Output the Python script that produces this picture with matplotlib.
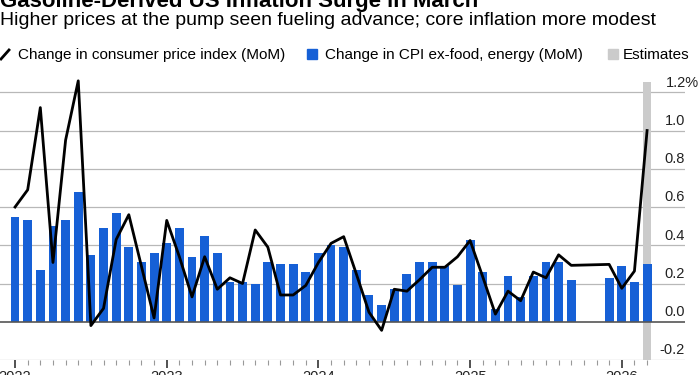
import matplotlib
matplotlib.use("Agg")
import matplotlib.pyplot as plt
import numpy as np
import pandas as pd
from matplotlib.lines import Line2D
from matplotlib.patches import Rectangle

plt.rcParams['font.family'] = ['Liberation Sans', 'DejaVu Sans']

title = "Gasoline-Derived US Inflation Surge in March"
subtitle = "Higher prices at the pump seen fueling advance; core inflation more modest"
legend_labels = ["Change in consumer price index (MoM)",
                 "Change in CPI ex-food, energy (MoM)",
                 "Estimates"]

months = pd.period_range("2022-01", "2026-03", freq="M")
nan = np.nan

# headline CPI, MoM %  (Oct/Nov 2025 not published)
cpi = [0.60, 0.69, 1.12, 0.31, 0.95, 1.26, -0.02, 0.07, 0.43, 0.56, 0.29, 0.02,
       0.53, 0.34, 0.13, 0.34, 0.17, 0.23, 0.20, 0.48, 0.39, 0.14, 0.14, 0.19,
       0.31, 0.41, 0.445, 0.25, 0.05, -0.045, 0.17, 0.16, 0.22, 0.285, 0.285, 0.34,
       0.425, 0.235, 0.04, 0.16, 0.11, 0.26, 0.23, 0.35, 0.295, nan, nan, 0.30,
       0.175, 0.265, 1.00]

# core CPI, MoM %
core = [0.55, 0.53, 0.27, 0.50, 0.53, 0.68, 0.35, 0.49, 0.57, 0.39, 0.31, 0.36,
        0.41, 0.49, 0.34, 0.45, 0.36, 0.21, 0.21, 0.20, 0.31, 0.30, 0.30, 0.26,
        0.36, 0.40, 0.39, 0.27, 0.14, 0.09, 0.17, 0.25, 0.31, 0.31, 0.29, 0.19,
        0.43, 0.26, 0.065, 0.24, 0.13, 0.24, 0.31, 0.31, 0.22, nan, nan, 0.23,
        0.29, 0.21, 0.30]

estimate_month = "2026-03"
band_top = 1.255

y_ticks = [-0.2, 0.0, 0.2, 0.4, 0.6, 0.8, 1.0, 1.2]
y_labels = ["-0.2", "0.0", "0.2", "0.4", "0.6", "0.8", "1.0", "1.2%"]

blue = "#1660d6"
grey_band = "#cbcbcb"
grid_col = "#b8b8b8"

W, H = 700, 375


def fx(px):
    return px / W


def fy(py):
    return 1 - py / H


fig = plt.figure(figsize=(7, 3.75), dpi=100)
ax = fig.add_axes([0, 15 / H, 685 / W, 283 / H])
ax.set_xlim(-1.19, 53.0)
ax.set_ylim(-0.2, 1.28)

x = np.arange(len(months))
cpi = np.array(cpi, dtype=float)
core = np.array(core, dtype=float)

# estimates band
est = list(months.astype(str)).index(estimate_month)
ax.axvspan(est - 0.34, est + 0.34, ymin=0,
           ymax=(band_top - (-0.2)) / (1.28 - (-0.2)),
           color=grey_band, lw=0, zorder=1)

for v in y_ticks:
    if v == 0:
        continue
    ax.axhline(v, color=grid_col, lw=0.9, zorder=0.5)

ax.bar(x, core, width=0.7, color=blue, zorder=2)
ax.axhline(0, color="#555555", lw=1.2, zorder=2.5)

ok = ~np.isnan(cpi)
ax.plot(x[ok], cpi[ok], color="black", lw=2, zorder=3)

for v, lab in zip(y_ticks, y_labels):
    xpos = 1.0
    if lab.endswith("%"):
        xpos = 699 / 685
    ax.text(xpos, v + 0.03, lab, transform=ax.get_yaxis_transform(),
            ha="right", va="baseline", fontsize=10.5, color="#222222")

years = x[months.month == 1]
ax.set_xticks(years)
ax.set_xticklabels([str(p.year) for p in months[months.month == 1]])
ax.set_xticks(x, minor=True)
ax.tick_params(axis="x", which="major", length=6, width=1.2, color="#333333",
               pad=1.5, labelsize=10.5, labelcolor="#222222")
ax.tick_params(axis="x", which="minor", length=3.5, width=0.8, color="#999999")
ax.set_yticks([])
for s in ax.spines.values():
    s.set_visible(False)

# title block (top is cropped in the reference)
fig.text(0, fy(7), title, fontsize=16, fontweight="bold", va="baseline")
fig.text(0, fy(25), subtitle, fontsize=14, va="baseline")

# legend
base = 59
fig.add_artist(Line2D([fx(1), fx(9)], [fy(base), fy(base - 9)], color="black",
                      lw=2, transform=fig.transFigure))
fig.text(fx(18), fy(base), legend_labels[0], fontsize=11, va="baseline")
fig.add_artist(Rectangle((fx(307), fy(base)), 10 / W, 10 / H, color=blue,
                         transform=fig.transFigure))
fig.text(fx(325), fy(base), legend_labels[1], fontsize=11, va="baseline")
fig.add_artist(Rectangle((fx(608), fy(base)), 10 / W, 10 / H, color=grey_band,
                         transform=fig.transFigure))
fig.text(fx(623), fy(base), legend_labels[2], fontsize=11, va="baseline")

fig.savefig("out.png", dpi=100)
